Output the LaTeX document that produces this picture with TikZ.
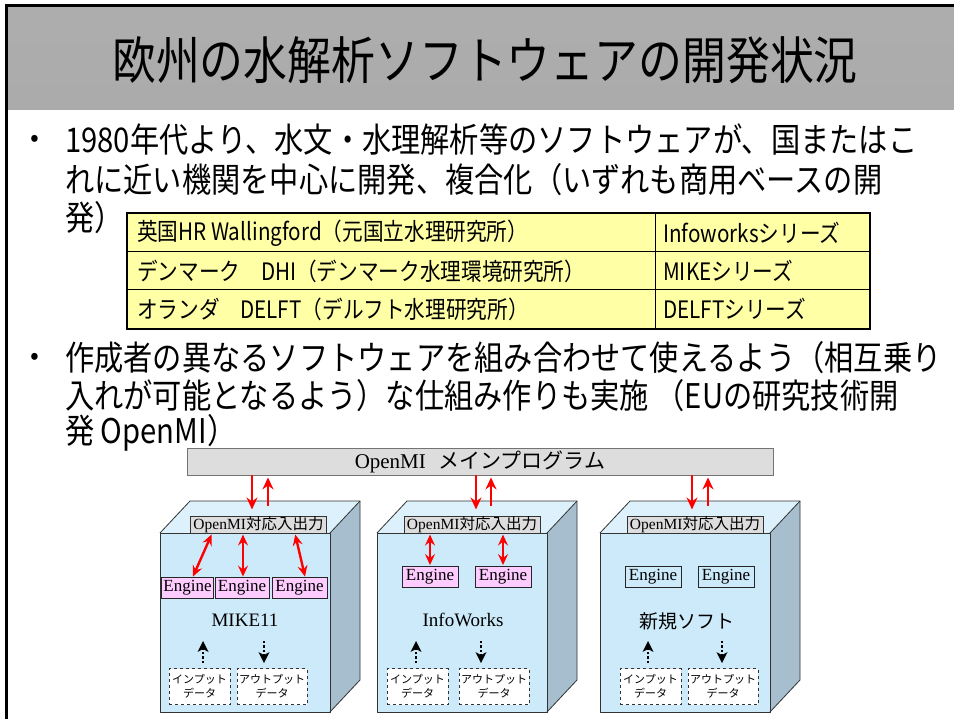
\documentclass[tikz,border=0pt]{standalone}
\usepackage{fontspec}
\setmainfont{Liberation Serif}
\newfontfamily\jp[FakeStretch=0.86]{Noto Sans CJK JP}
\newfontfamily\jpn{Noto Sans CJK JP}
\usetikzlibrary{arrows.meta}
\definecolor{frontc}{RGB}{204,234,250}
\definecolor{topc}{RGB}{220,241,252}
\definecolor{sidec}{RGB}{166,190,206}
\definecolor{pinkc}{RGB}{255,204,255}
\definecolor{lgray}{RGB}{221,221,221}
\definecolor{tabyel}{RGB}{255,255,165}
\tikzset{
  bodytext/.style={anchor=west, inner sep=0pt, font=\jp\fontsize{34}{40}\selectfont},
  bul/.style={anchor=center, inner sep=0pt, font=\jpn\fontsize{26}{30}\selectfont},
  tabtext/.style={anchor=west, inner sep=0pt, font=\jp\fontsize{24}{28}\selectfont},
  cubeedge/.style={draw=black!80, line width=0.8pt},
  iolabel/.style={draw=black!80, fill=lgray, line width=0.8pt, minimum width=136pt, minimum height=16pt, inner sep=0pt, font=\fontsize{15.5}{17}\selectfont},
  engine/.style={draw=black!85, line width=0.9pt, minimum height=21pt, inner sep=0pt, font=\fontsize{17}{19}\selectfont},
  datab/.style={draw=black!80, dashed, fill=white, line width=0.8pt, minimum height=36pt, inner sep=0pt, align=center, font=\jpn\fontsize{11}{14}\selectfont},
  redarr/.style={draw=red, line width=2.8pt, -{Stealth[length=12pt,width=11pt,inset=4pt]}},
  redboth/.style={draw=red, line width=2.4pt, {Stealth[length=11pt,width=10pt,inset=4pt]}-{Stealth[length=11pt,width=10pt,inset=4pt]}},
  dotarr/.style={draw=black, line width=2.4pt, dotted, -{Stealth[length=11pt,width=11pt,inset=3pt,line width=0pt]}},
  boxname/.style={inner sep=0pt, font=\fontsize{19}{21}\selectfont}
}
\begin{document}
\begin{tikzpicture}[x=1pt,y=-1pt]
\useasboundingbox (0,0) rectangle (954,719);
\fill[white] (0,0) rectangle (954,719);
% title band
\shade[top color=black!32, middle color=white, bottom color=black!33] (7,8) rectangle (954,110);
\draw[black, line width=3pt] (6,719) -- (6,6) -- (954,6);
\node[inner sep=0pt, font=\jp\fontsize{51}{56}\selectfont] (title) at (485,60) {欧州の水解析ソフトウェアの開発状況};

% bullet 1
\node[bul] (b1) at (35,141) {•};
\node[bodytext] (l1) at (65,140) {1980年代より、水文・水理解析等のソフトウェアが、国またはこ};
\node[bodytext] (l2) at (65,180) {れに近い機関を中心に開発、複合化（いずれも商用ベースの開};
\node[bodytext] (l3) at (65,218) {発）};

% table
\fill[tabyel] (127,213) rectangle (870,329);
\draw[black, line width=1pt] (127,252) -- (870,252) (127,290) -- (870,290) (655,213) -- (655,329);
\draw[black, line width=2.6pt] (127,213) rectangle (870,329);
\node[tabtext] (t11) at (137,233) {英国HR Wallingford（元国立水理研究所）};
\node[tabtext] (t12) at (663,233) {Infoworksシリーズ};
\node[tabtext] (t21) at (137,271) {デンマーク　DHI（デンマーク水理環境研究所）};
\node[tabtext] (t22) at (663,271) {MIKEシリーズ};
\node[tabtext] (t31) at (137,309) {オランダ　DELFT（デルフト水理研究所）};
\node[tabtext] (t32) at (663,309) {DELFTシリーズ};

% bullet 2
\node[bul] (b2) at (35,359) {•};
\node[bodytext] (m1) at (65,358) {作成者の異なるソフトウェアを組み合わせて使えるよう（相互乗り};
\node[bodytext] (m2) at (65,396) {入れが可能となるよう）な仕組み作りも実施 （EUの研究技術開};
\node[bodytext] (m3) at (65,433) {発 OpenMI）};

% main program bar
\node[draw=black!55, fill=lgray, line width=0.9pt, minimum width=586pt, minimum height=27pt, inner sep=0pt, font=\fontsize{21}{23}\selectfont] (main) at (480,461.5) {OpenMI\hspace{0.6em}{\jpn メインプログラム}};

% cubes
\foreach \x in {160,377,600}{
  \fill[frontc] (\x,533) rectangle (\x+170,712);
  \fill[topc] (\x,533) -- (\x+30,501) -- (\x+200,501) -- (\x+170,533) -- cycle;
  \fill[sidec] (\x+170,533) -- (\x+200,501) -- (\x+200,680) -- (\x+170,712) -- cycle;
  \draw[cubeedge, line join=round] (\x,533) rectangle (\x+170,712);
  \draw[cubeedge, line join=round] (\x,533) -- (\x+30,501) -- (\x+200,501) -- (\x+200,680) -- (\x+170,712);
  \draw[cubeedge] (\x+170,533) -- (\x+200,501);
}

% OpenMI IO labels
\node[iolabel] (io1) at (258.5,525) {OpenMI{\jpn 対応入出力}};
\node[iolabel] (io2) at (472,525) {OpenMI{\jpn 対応入出力}};
\node[iolabel] (io3) at (695,525) {OpenMI{\jpn 対応入出力}};

% arrows main <-> io
\coordinate (d1) at (252,0); \coordinate (u1) at (268,0);
\coordinate (d2) at (476,0); \coordinate (u2) at (491,0);
\coordinate (d3) at (692,0); \coordinate (u3) at (708,0);
\draw[redarr, shorten >=7pt] (main.south -| d1) -- (io1.north -| d1);
\draw[redarr, shorten <=10pt, shorten >=2pt] (io1.north -| u1) -- (main.south -| u1);
\draw[redarr, shorten >=7pt] (main.south -| d2) -- (io2.north -| d2);
\draw[redarr, shorten <=10pt, shorten >=2pt] (io2.north -| u2) -- (main.south -| u2);
\draw[redarr, shorten >=7pt] (main.south -| d3) -- (io3.north -| d3);
\draw[redarr, shorten <=10pt, shorten >=2pt] (io3.north -| u3) -- (main.south -| u3);

% engines
\node[engine, fill=pinkc, minimum width=52pt] (e11) at (187.5,587.5) {Engine};
\node[engine, fill=pinkc, minimum width=54pt] (e12) at (242,587.5) {Engine};
\node[engine, fill=pinkc, minimum width=55pt] (e13) at (299.5,587.5) {Engine};
\node[engine, fill=pinkc, minimum width=56pt] (e21) at (430,577) {Engine};
\node[engine, fill=pinkc, minimum width=56pt] (e22) at (503,577) {Engine};
\node[engine, fill=frontc, minimum width=56pt] (e31) at (653,577) {Engine};
\node[engine, fill=frontc, minimum width=56pt] (e32) at (726,577) {Engine};

\coordinate (a11) at (212,533); \coordinate (a12) at (243,533); \coordinate (a13) at (295,533);
\coordinate (b11) at (193,0); \coordinate (b13) at (305,0);
\coordinate (a21) at (430,533); \coordinate (a22) at (503,533);
\draw[redboth, shorten <=1pt] (io1.south -| a11) -- (e11.north -| b11);
\draw[redboth, shorten <=1pt] (io1.south -| a12) -- (e12.north -| a12);
\draw[redboth, shorten <=1pt] (io1.south -| a13) -- (e13.north -| b13);
\draw[redboth, shorten <=1pt, shorten >=1pt] (io2.south -| a21) -- (e21.north);
\draw[redboth, shorten <=1pt, shorten >=1pt] (io2.south -| a22) -- (e22.north);

% box names
\node[boxname] (n1) at (245,620) {MIKE11};
\node[boxname] (n2) at (463,620) {InfoWorks};
\node[boxname, font=\jpn\fontsize{19}{21}\selectfont] (n3) at (687,621) {新規ソフト};

% data boxes
\node[datab, minimum width=61pt] (in1) at (199.5,686.5) {インプット\\データ};
\node[datab, minimum width=70pt] (out1) at (272,686.5) {アウトプット\\データ};
\node[datab, minimum width=61pt] (in2) at (417.5,686.5) {インプット\\データ};
\node[datab, minimum width=70pt] (out2) at (494,686.5) {アウトプット\\データ};
\node[datab, minimum width=61pt] (in3) at (650.5,686.5) {インプット\\データ};
\node[datab, minimum width=70pt] (out3) at (723,686.5) {アウトプット\\データ};

% dotted arrows
\coordinate (p1) at (203,641); \coordinate (q1) at (264,641);
\coordinate (p2) at (416,641); \coordinate (q2) at (481,641);
\coordinate (p3) at (648,641); \coordinate (q3) at (722,641);
\draw[dotarr, shorten <=5pt] (in1.north -| p1) -- (p1);
\draw[dotarr, shorten >=5pt] (q1) -- (out1.north -| q1);
\draw[dotarr, shorten <=5pt] (in2.north -| p2) -- (p2);
\draw[dotarr, shorten >=5pt] (q2) -- (out2.north -| q2);
\draw[dotarr, shorten <=5pt] (in3.north -| p3) -- (p3);
\draw[dotarr, shorten >=5pt] (q3) -- (out3.north -| q3);
\end{tikzpicture}
\end{document}
